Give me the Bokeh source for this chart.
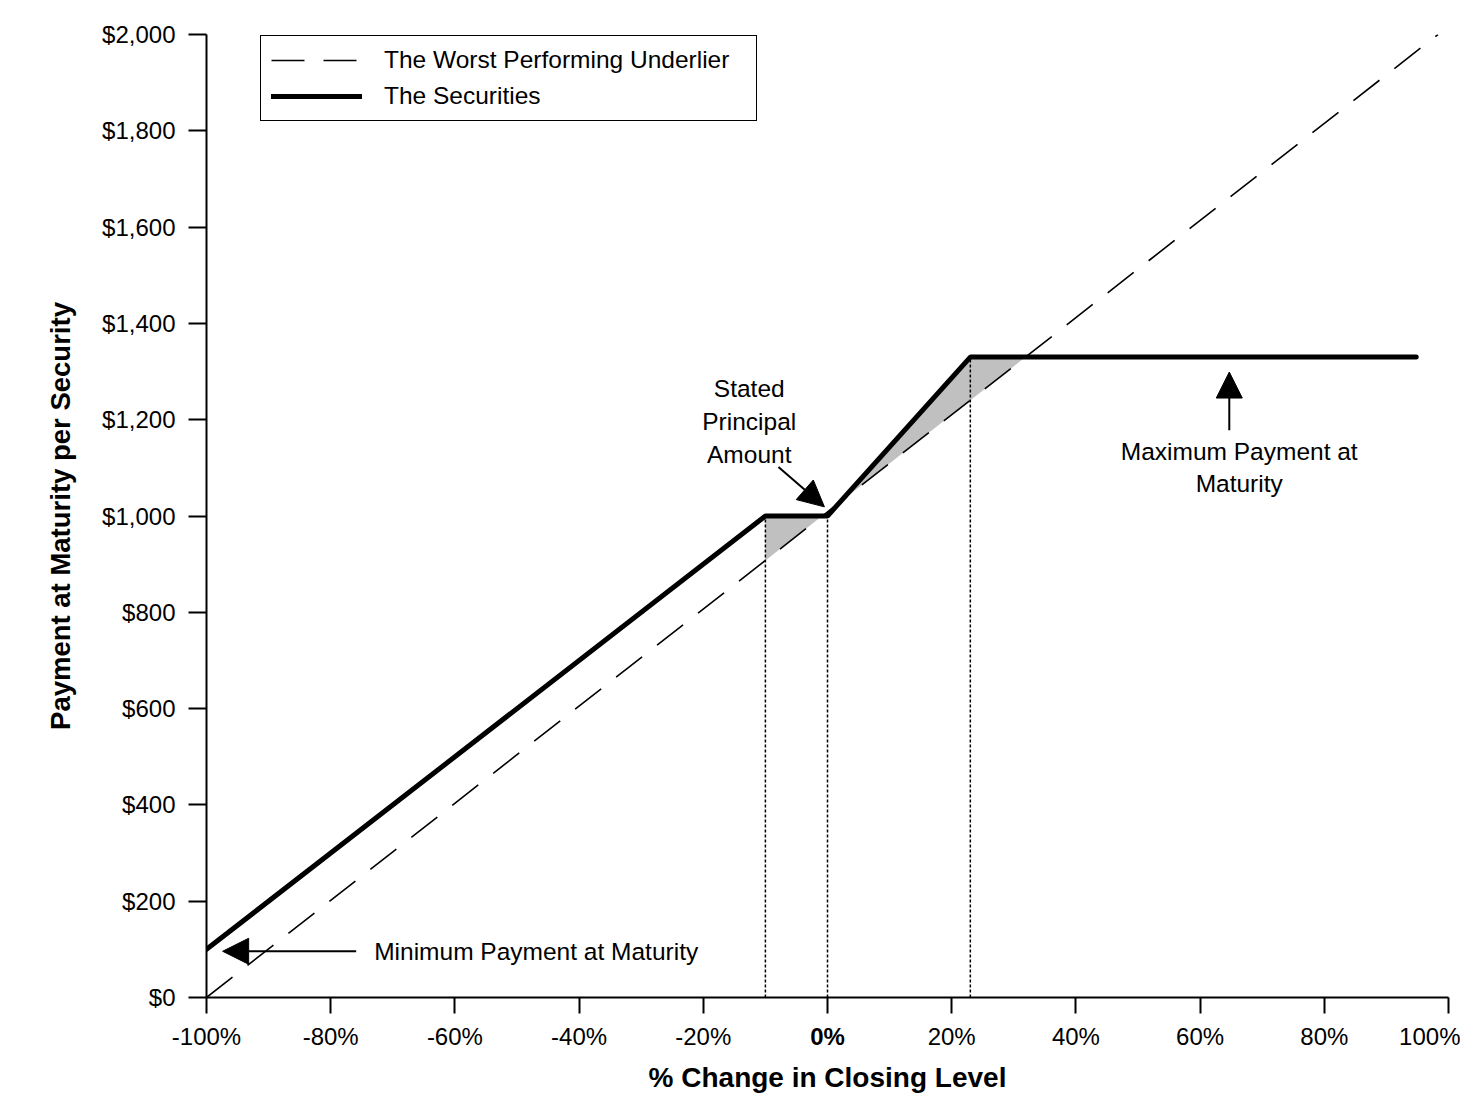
from bokeh.plotting import figure
from bokeh.models import Range1d, FixedTicker, Arrow, NormalHead, Label, Legend, LegendItem
from bokeh.core.properties import value
from bokeh.embed import file_html
from bokeh.resources import INLINE
import numpy as np

# ---- data ----
x_ticks = [-100, -80, -60, -40, -20, 0, 20, 40, 60, 80, 100]
x_tick_labels = ["-100%", "-80%", "-60%", "-40%", "-20%", "0%", "20%", "40%", "60%", "80%", "100%"]
y_ticks = [0, 200, 400, 600, 800, 1000, 1200, 1400, 1600, 1800, 2000]
y_tick_labels = ["$0", "$200", "$400", "$600", "$800", "$1,000", "$1,200", "$1,400", "$1,600", "$1,800", "$2,000"]

underlier_x = [-100, 98.3]
underlier_y = [0, 2000]

securities_x = [-100, -10, 0, 23, 94.8]
securities_y = [100, 1000, 1000, 1330, 1330]

FONT = "Liberation Sans"
FH = 963

p = figure(frame_width=1242, frame_height=FH,
           x_range=Range1d(-100, 100), y_range=Range1d(0, 2000),
           output_backend="svg", toolbar_location=None,
           min_border_left=206, min_border_right=12, min_border_top=34, min_border_bottom=100,
           background_fill_color="white", border_fill_color="white")
p.outline_line_color = None
p.xgrid.visible = False
p.ygrid.visible = False

# shaded region between securities and underlier
cap = max(securities_y)
x_cross = float(np.interp(cap, underlier_y, underlier_x))
shade_x = [securities_x[1], securities_x[2], securities_x[3], x_cross]
shade_top = list(np.interp(shade_x, securities_x, securities_y))
shade_bot = list(np.interp(shade_x, underlier_x, underlier_y))
p.varea(x=shade_x, y1=shade_bot, y2=shade_top, fill_color="#c0c0c0")

# dotted verticals
kx = [securities_x[1], securities_x[2], securities_x[3]]
ky = [securities_y[1], securities_y[2], securities_y[3]]
p.segment(x0=kx, y0=[0, 0, 0], x1=kx, y1=ky, line_color="black", line_width=1.5, line_dash="3 2")

r_und = p.line(underlier_x, underlier_y, line_color="black", line_width=1.6, line_dash="33 19")
r_sec = p.line(securities_x, securities_y, line_color="black", line_width=5, line_cap="round")

legend = Legend(items=[LegendItem(label="The Worst Performing Underlier", renderers=[r_und]),
                       LegendItem(label="The Securities", renderers=[r_sec])],
                location=(54, FH - 87))
legend.label_text_font = FONT
legend.label_text_font_size = "24.5px"
legend.label_text_color = "black"
legend.glyph_width = 91
legend.glyph_height = 28
legend.label_height = 28
legend.label_width = 362
legend.spacing = 8
legend.padding = 10
legend.margin = 0
legend.label_standoff = 22
legend.border_line_color = "black"
legend.border_line_alpha = 1.0
legend.border_line_width = 1.5
legend.background_fill_color = "white"
legend.background_fill_alpha = 1.0
p.add_layout(legend)

# axes
xa = p.xaxis[0]
ya = p.yaxis[0]
xa.ticker = FixedTicker(ticks=x_ticks)
ya.ticker = FixedTicker(ticks=y_ticks)
xa.major_label_overrides = {t: (l if t != 0 else "") for t, l in zip(x_ticks, x_tick_labels)}
ya.major_label_overrides = {t: l for t, l in zip(y_ticks, y_tick_labels)}
for ax in (xa, ya):
    ax.axis_line_color = "black"
    ax.axis_line_width = 2
    ax.major_tick_line_color = "black"
    ax.major_tick_line_width = 2
    ax.major_tick_in = 0
    ax.minor_tick_line_color = None
    ax.major_label_text_font = FONT
    ax.major_label_text_font_size = "24px"
    ax.major_label_text_color = "black"
    ax.axis_label_text_font = FONT
    ax.axis_label_text_font_style = "bold"
    ax.axis_label_text_color = "black"
xa.axis_label_text_font_size = "28px"
ya.axis_label_text_font_size = "27.5px"
xa.major_tick_out = 16
ya.major_tick_out = 18
xa.major_label_standoff = 9
ya.major_label_standoff = 13
xa.axis_label = "% Change in Closing Level"
ya.axis_label = "Payment at Maturity per Security"
xa.axis_label_standoff = 9
ya.axis_label_standoff = 23

# bold 0% tick label (placed in the below panel so it is not clipped by the frame)
zero_label = x_tick_labels[x_ticks.index(0)]
p.add_layout(Label(x=0, y=0, text=zero_label, text_font=FONT, text_font_size="24px",
                   text_font_style="bold", text_align="center", text_baseline="top",
                   y_offset=-25, text_color="black"), "below")

# annotations
p.text(x=[-73.0], y=[96], text=["Minimum Payment at Maturity"], text_font=value(FONT),
       text_font_size="24.5px", text_align="left", text_baseline="middle", text_color="black")
p.text(x=[-12.6], y=[1197], text=["Stated\nPrincipal\nAmount"], text_font=value(FONT),
       text_font_size="24.5px", text_align="center", text_baseline="middle", text_color="black",
       text_line_height=1.22)
p.text(x=[66.3], y=[1101], text=["Maximum Payment at\nMaturity"], text_font=value(FONT),
       text_font_size="24.5px", text_align="center", text_baseline="middle", text_color="black",
       text_line_height=1.2)

def head():
    return NormalHead(size=26, fill_color="black", line_color="black", line_width=1)

p.add_layout(Arrow(end=head(), x_start=-75.9, y_start=96, x_end=-97.4, y_end=96,
                   line_color="black", line_width=2))
p.add_layout(Arrow(end=head(), x_start=-7.9, y_start=1102, x_end=-0.5, y_end=1019,
                   line_color="black", line_width=2))
p.add_layout(Arrow(end=head(), x_start=64.7, y_start=1178, x_end=64.7, y_end=1299,
                   line_color="black", line_width=2))

open("out.html", "w").write(file_html(p, INLINE))
